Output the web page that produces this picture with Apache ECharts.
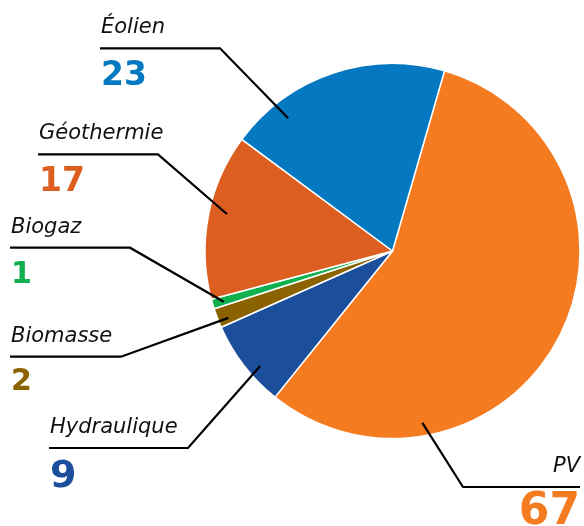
<!DOCTYPE html>
<html>
<head>
<meta charset="utf-8">
<script src="https://cdn.jsdelivr.net/npm/echarts@6/dist/echarts.min.js"></script>
<style>
  html, body { margin: 0; padding: 0; background: #ffffff; }
  #chart { width: 584px; height: 526px; }
</style>
</head>
<body>
<div id="chart"></div>
<script>
// Renewable sources and their counts
const categories = ['PV', 'Hydraulique', 'Biomasse', 'Biogaz', 'Géothermie', 'Éolien'];
const values = [67, 9, 2, 1, 17, 23];
const colors = ['#f47b20', '#1b4f9c', '#8a6200', '#10b04f', '#dc5e20', '#0479c1'];

// Pie geometry (pixels) and rotation
const CX = 392.5, CY = 251, R = 187.5, START_ANGLE = 73.9;

// Where each label sits, and where its leader line touches its slice
// frac: position along the slice's arc, rFrac: distance from centre
const placement = {
  'PV':          { side: 'right', textX: 580, lineY: 487,   elbowX: 463, frac: 0.76,  rFrac: 0.93,  valueSize: 44, gap: 9 },
  'Hydraulique': { side: 'left',  textX: 50,  lineY: 448,   elbowX: 188, frac: 0.375, rFrac: 0.935, valueSize: 38, gap: 15 },
  'Biomasse':    { side: 'left',  textX: 11,  lineY: 356.7, elbowX: 121, frac: 0.3,   rFrac: 0.945, valueSize: 30, gap: 14 },
  'Biogaz':      { side: 'left',  textX: 11,  lineY: 247.7, elbowX: 130, frac: 0.4,   rFrac: 0.94,  valueSize: 30, gap: 15.5 },
  'Géothermie':  { side: 'left',  textX: 39,  lineY: 154.3, elbowX: 158, frac: 0.535, rFrac: 0.905, valueSize: 33, gap: 15 },
  'Éolien':      { side: 'left',  textX: 101, lineY: 48.3,  elbowX: 220, frac: 0.22,  rFrac: 0.90,  valueSize: 33, gap: 15 }
};

const NAME_SIZE = 21, NAME_LH = 28;
const total = values.reduce((a, b) => a + b, 0);

// Point inside slice i where its leader line starts
function anchorPoint(i) {
  let before = 0;
  for (let k = 0; k < i; k++) before += values[k];
  const p = placement[categories[i]];
  const span = values[i] / total * 360;
  const a = (START_ANGLE - (before / total) * 360 - p.frac * span) * Math.PI / 180;
  const r = R * p.rFrac;
  return [CX + r * Math.cos(a), CY - r * Math.sin(a)];
}

// Coloured slices
const sliceData = categories.map((name, i) => ({
  name: name,
  value: values[i],
  itemStyle: { color: colors[i] }
}));

// Same slices, transparent, carrying labels and leader lines on top
const labelData = categories.map((name, i) => {
  const p = placement[name];
  const s = p.valueSize;
  const valueLH = 2 * (p.gap + (NAME_LH / 2 - 7.7) + 0.383 * s);
  const align = p.side === 'right' ? 'right' : 'left';
  return {
    name: name,
    value: values[i],
    itemStyle: { color: 'rgba(0,0,0,0)', borderWidth: 0 },
    label: {
      formatter: '{n|{b}}\n{v|{c}}',
      rich: {
        n: {
          fontFamily: 'DejaVu Sans', fontStyle: 'italic', fontSize: NAME_SIZE,
          lineHeight: NAME_LH, color: '#111111', align: align
        },
        v: {
          fontFamily: 'DejaVu Sans', fontWeight: 'bold', fontSize: s,
          lineHeight: valueLH, color: colors[i], align: align
        }
      }
    }
  };
});

const chart = echarts.init(document.getElementById('chart'), null, { renderer: 'canvas' });
chart.setOption({
  animation: false,
  series: [{
    type: 'pie',
    z: 1,
    center: [CX, CY],
    radius: R,
    startAngle: START_ANGLE,
    clockwise: true,
    data: sliceData,
    itemStyle: { borderColor: '#ffffff', borderWidth: 1.5 },
    label: { show: false },
    labelLine: { show: false },
    emphasis: { disabled: true },
    silent: true
  }, {
    type: 'pie',
    z: 5,
    center: [CX, CY],
    radius: R,
    startAngle: START_ANGLE,
    clockwise: true,
    avoidLabelOverlap: false,
    data: labelData,
    label: { show: true, position: 'outside' },
    labelLine: { show: true, smooth: false, lineStyle: { color: '#000000', width: 2.2 } },
    emphasis: { disabled: true },
    silent: true,
    labelLayout: function (params) {
      const i = params.dataIndex;
      const p = placement[categories[i]];
      const anchor = anchorPoint(i);
      const top = p.lineY - (NAME_SIZE * 0.346 + 13 + NAME_LH / 2);
      const lineEnd = p.side === 'right' ? p.textX : p.textX - 1;
      return {
        x: p.textX,
        y: top,
        align: p.side === 'right' ? 'right' : 'left',
        verticalAlign: 'top',
        labelLinePoints: [anchor, [p.elbowX, p.lineY], [lineEnd, p.lineY]]
      };
    }
  }]
});
</script>
</body>
</html>
